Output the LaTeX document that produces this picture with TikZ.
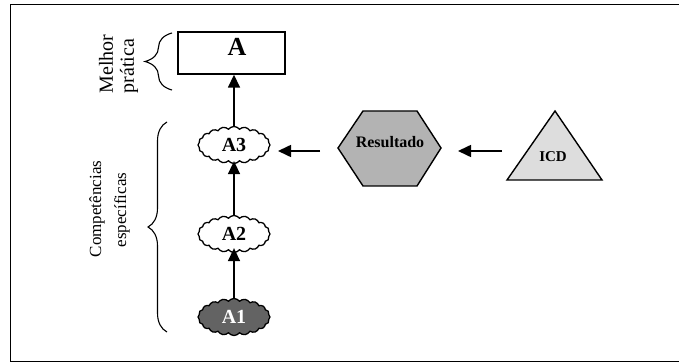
\documentclass[tikz,border=0pt]{standalone}
\usepackage{fontspec}
\setmainfont{Liberation Serif}
\usetikzlibrary{shapes.geometric,shapes.symbols,decorations.pathreplacing,arrows.meta,calc}

\definecolor{hexgray}{HTML}{B3B3B3}
\definecolor{trigray}{HTML}{DDDDDD}
\definecolor{darkcomp}{HTML}{636363}

\begin{document}
\begin{tikzpicture}[x=1pt,y=-1pt,
  comp/.style={cloud, cloud puffs=20, cloud puff arc=105, aspect=2,
    draw=black, line width=1.3pt, minimum width=72pt, minimum height=37pt,
    inner sep=0pt, font=\fontsize{20}{20}\selectfont\bfseries},
  link/.style={line width=1.6pt, -{Triangle[length=13pt,width=12pt]}},
  curly/.style={decorate, decoration={brace, amplitude=#1}, line width=1.1pt},
  shapeline/.style={draw=black, line width=1.4pt},
  sidelabel/.style={rotate=90, inner sep=0pt},
]
\useasboundingbox (0,0) rectangle (679,363);

% outer frame
\draw[line width=1.2pt] (681,4.5) -- (10.5,4.5) -- (10.5,361.5) -- (681,361.5);

% best practice box
\node[shapeline, rectangle, minimum width=107pt, minimum height=42pt, inner sep=0pt] (best) at (231.5,53) {};
\node[font=\fontsize{26}{26}\selectfont\bfseries] (bestlabel) at (237,47) {A};

% specific competences
\node[comp] (a3) at (234,145) {A3};
\node[comp] (a2) at (234,234) {A2};
\node[comp, fill=darkcomp, text=white] (a1) at (234,317) {A1};

% result hexagon and indicator triangle
\path[shapeline, fill=hexgray] (338,148) -- (363,111) -- (417,111) -- (441,148) -- (417,186) -- (363,186) -- cycle;
\node[font=\fontsize{16}{16}\selectfont\bfseries] (res) at (390,142) {Resultado};
\path[shapeline, fill=trigray] (555,111) -- (602,180) -- (507,180) -- cycle;
\node[font=\fontsize{15}{15}\selectfont\bfseries] (icd) at (553,157) {ICD};

% connectors
\draw[link, shorten >=-5pt] (a1.north) -- (a2.south);
\draw[link, shorten >=-3pt] (a2.north) -- (a3.south);
\draw[link] (a3.north) -- (best.south -| a3.north);
\draw[link] ($(icd.center)+(-51,-6)$) -- ($(res.center)+(68,9)$);
\draw[link] ($(res.center)+(-70,9)$) -- ($(a3.center)+(44,6)$);

% braces and their labels (one rotated node per line)
\draw[curly=27pt] (172,90) -- (172,33);
\node[sidelabel, font=\fontsize{20}{20}\selectfont] (bestside1) at (106,64) {Melhor};
\node[sidelabel, font=\fontsize{20}{20}\selectfont] (bestside2) at (129,66) {prática};
\draw[curly=19pt] (167,332) -- (167,122);
\node[sidelabel, font=\fontsize{17}{17}\selectfont] (compside1) at (97,209) {Competências};
\node[sidelabel, font=\fontsize{17}{17}\selectfont] (compside2) at (122,210) {específicas};
\end{tikzpicture}
\end{document}
